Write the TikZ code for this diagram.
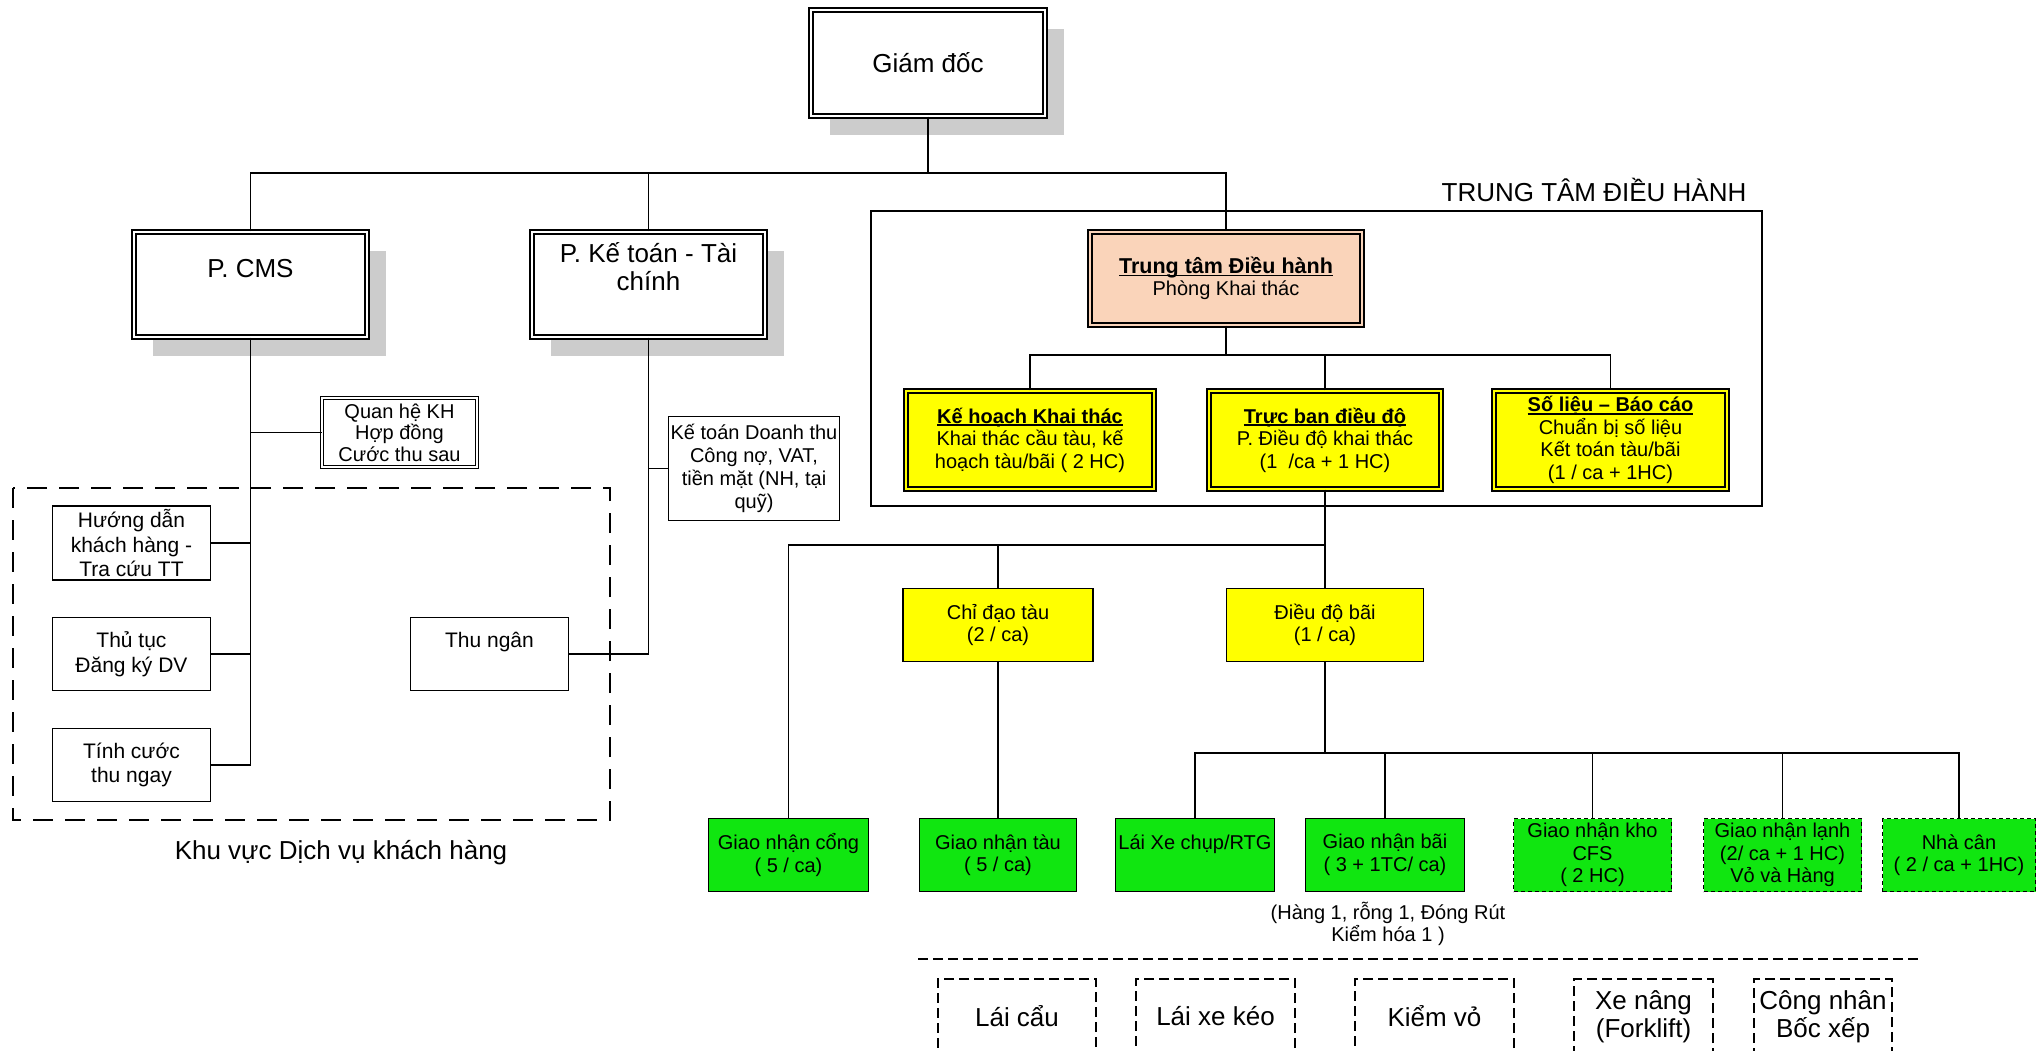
\documentclass[tikz,border=0pt]{standalone}
\usepackage{fontspec}
\setmainfont{Liberation Sans}
\usetikzlibrary{shadows}

\definecolor{ttpeach}{RGB}{250,212,186}
\definecolor{ttyellow}{RGB}{255,255,0}
\definecolor{ttgreen}{RGB}{16,230,16}

\newcommand{\fbig}{\fontsize{26}{28}\selectfont}
\newcommand{\fmid}{\fontsize{21}{24.5}\selectfont}
\newcommand{\fsmall}{\fontsize{20}{22.5}\selectfont}
% bold heading with a close underline
\newcommand{\hdul}[1]{\bfseries\setbox0\hbox{#1}\rlap{\rule[-2.8pt]{\wd0}{1.6pt}}\box0}

\tikzset{
  unit/.style={draw, line width=1.5pt, inner sep=0pt, align=center},
  dbl/.style={unit, double, double distance=2.5pt, line width=1.4pt},
  thindbl/.style={unit, double, double distance=2pt, line width=1pt},
  shadowed/.style={fill=white, drop shadow={shadow xshift=19pt, shadow yshift=-19pt, fill=black!20, opacity=1}},
  ylwdbl/.style={dbl, fill=ttyellow, double=ttyellow, font=\fsmall},
  ylwbox/.style={unit, fill=ttyellow, font=\fsmall},
  grnbox/.style={unit, fill=ttgreen, font=\fsmall, minimum height=73},
  grndash/.style={grnbox, dash pattern=on 4pt off 3pt},
  crewbox/.style={unit, dash pattern=on 10pt off 5pt, font=\fbig, minimum height=75}
}

\begin{document}
\begin{tikzpicture}[x=1pt, y=-1pt, line width=1.5pt]
	\useasboundingbox (0,0) rectangle (2038,1050);

	% head and departments
	\node[dbl, shadowed, font=\fbig, minimum width=234, minimum height=106] (gd) at (928,63) {Giám đốc};
	\node[dbl, shadowed, font=\fbig, minimum width=233, minimum height=105] (cms) at (250.5,284.5) {P. CMS\\[-4pt]\strut};
	\node[dbl, shadowed, font=\fbig, minimum width=233, minimum height=105] (kt) at (648.5,284.5) {P. Kế toán - Tài\\chính\\\strut};

	% customer service area
	\node[thindbl, font=\fontsize{20}{21.5}\selectfont, minimum width=155, minimum height=69] (qhkh) at (399.5,432.5) {Quan hệ KH\\Hợp đồng\\Cước thu sau};
	\node[unit, font=\fmid, minimum width=158, minimum height=74] (huongdan) at (131.5,543) {Hướng dẫn\\khách hàng -\\Tra cứu TT};
	\node[unit, font=\fmid, minimum width=158, minimum height=73] (thutuc) at (131.5,654) {Thủ tục\\Đăng ký DV};
	\node[unit, font=\fmid, minimum width=158, minimum height=73] (tinhcuoc) at (131.5,765) {Tính cước\\thu ngay};
	\node[unit, font=\fmid, minimum width=158, minimum height=73] (thungan) at (489.5,654) {Thu ngân\\[-3pt]\strut};
	\node[unit, font=\fontsize{20}{23}\selectfont, minimum width=171, minimum height=104] (ktdt) at (754,468.5) {Kế toán Doanh thu\\Công nợ, VAT,\\tiền mặt (NH, tại\\quỹ)};

	\draw (cms.south) |- (tinhcuoc.east);
	\draw (qhkh.west) -- (qhkh.west -| cms.south);
	\draw (huongdan.east) -- (huongdan.east -| cms.south);
	\draw (thutuc.east) -- (thutuc.east -| cms.south);
	\draw (kt.south) |- (thungan.east);
	\draw (ktdt.west) -- (ktdt.west -| kt.south);

	\draw[dash pattern=on 20pt off 12pt] (13,488) rectangle (610,820);
	\node[font=\fbig] (khuvuc) at (341,853) {Khu vực Dịch vụ khách hàng};

	% operations centre
	\draw (871,211) rectangle (1762,506);
	\node[font=\fbig] (ttlabel) at (1594,190) {TRUNG TÂM ĐIỀU HÀNH};
	\node[dbl, fill=ttpeach, double=ttpeach, font=\fsmall, minimum width=272, minimum height=93] (ttdh) at (1226,278.5) {{\fontsize{21.5}{23}\selectfont\hdul{Trung tâm Điều hành}}\\Phòng Khai thác};
	\node[ylwdbl, minimum width=248, minimum height=98] (khkt) at (1030,440) {{\hdul{Kế hoạch Khai thác}}\\Khai thác cầu tàu, kế\\hoạch tàu/bãi ( 2 HC)};
	\node[ylwdbl, minimum width=232, minimum height=98] (trucban) at (1325,440) {{\hdul{Trực ban điều độ}}\\P. Điều độ khai thác\\(1~ /ca + 1 HC)};
	\node[ylwdbl, minimum width=233, minimum height=98] (solieu) at (1610.5,440) {{\hdul{Số liệu – Báo cáo}}\\Chuẩn bị số liệu\\Kết toán tàu/bãi\\(1 / ca + 1HC)};

	\coordinate (busA) at (0,173);
	\draw (gd.south) -- (gd.south |- busA);
	\draw (cms.north) |- (busA -| ttdh.north) -- (ttdh.north);
	\draw (kt.north) -- (kt.north |- busA);

	\coordinate (busB) at (0,355);
	\draw (ttdh.south) -- (ttdh.south |- busB);
	\draw (khkt.north) |- (busB -| solieu.north) -- (solieu.north);
	\draw (trucban.north) -- (trucban.north |- busB);

	% shift staff
	\node[ylwbox, minimum width=190, minimum height=73] (chidao) at (998,625) {Chỉ đạo tàu\\(2 / ca)};
	\node[ylwbox, minimum width=197, minimum height=73] (dieudo) at (1325,625) {Điều độ bãi\\(1 / ca)};

	\node[grnbox, minimum width=160] (gncong) at (788.5,855) {Giao nhận cổng\\( 5 / ca)};
	\node[grnbox, minimum width=157] (gntau) at (998,855) {Giao nhận tàu\\( 5 / ca)};
	\node[grnbox, minimum width=159] (laixe) at (1195,855) {Lái Xe chụp/RTG\\[-3pt]\strut};
	\node[grnbox, minimum width=159] (gnbai) at (1385,855) {Giao nhận bãi\\( 3 + 1TC/ ca)};
	\node[grndash, minimum width=158] (cfs) at (1592.5,855) {Giao nhận kho\\CFS\\( 2 HC)};
	\node[grndash, minimum width=158] (lanh) at (1782.5,855) {Giao nhận lạnh\\(2/ ca + 1 HC)\\Vỏ và Hàng};
	\node[grndash, minimum width=153] (nhacan) at (1959,855) {Nhà cân\\( 2 / ca + 1HC)};
	\node[font=\fsmall, align=center] (note) at (1388,924) {(Hàng 1, rỗng 1, Đóng Rút\\Kiểm hóa 1 )};

	\coordinate (busC) at (0,545);
	\draw (trucban.south) -- (dieudo.north);
	\draw (gncong.north) |- (busC -| dieudo.north);
	\draw (chidao.north) -- (chidao.north |- busC);
	\draw (chidao.south) -- (gntau.north);

	\coordinate (busD) at (0,753);
	\draw (dieudo.south) -- (dieudo.south |- busD);
	\draw (laixe.north) |- (busD -| nhacan.north) -- (nhacan.north);
	\draw (gnbai.north) -- (gnbai.north |- busD);
	\draw (cfs.north) -- (cfs.north |- busD);
	\draw (lanh.north) -- (lanh.north |- busD);

	% outsourced crews
	\coordinate (sepL) at (918,959);
	\coordinate (sepR) at (1921,959);
	\draw[dash pattern=on 10pt off 5pt] (sepL) -- (sepR);
	\node[crewbox, minimum width=158] (laicau) at (1017,1016.5) {Lái cẩu};
	\node[crewbox, minimum width=159] (laikeo) at (1215.5,1016.5) {Lái xe kéo};
	\node[crewbox, minimum width=159] (kiemvo) at (1434.5,1016.5) {Kiểm vỏ};
	\node[crewbox, minimum width=139] (xenang) at (1643.5,1016.5) {Xe nâng\\(Forklift)};
	\node[crewbox, minimum width=138] (congnhan) at (1823,1016.5) {Công nhân\\Bốc xếp};
\end{tikzpicture}
\end{document}
